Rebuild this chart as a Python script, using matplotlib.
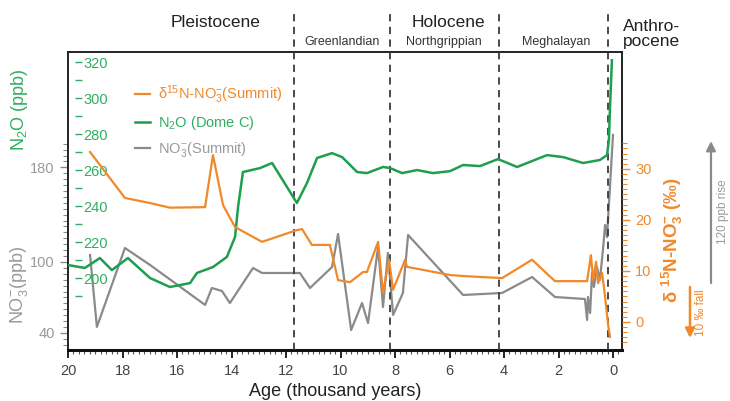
import matplotlib
matplotlib.use("Agg")
import matplotlib.pyplot as plt
from matplotlib.ticker import FixedLocator, MultipleLocator
import matplotlib.transforms as mtransforms

plt.rcParams['font.family'] = ['Liberation Sans', 'DejaVu Sans']
plt.rcParams['mathtext.default'] = 'regular'

# N2O Dome C (ka BP, ppb)
n2o_age = [20.0, 19.38, 18.83, 18.39, 17.80, 16.99, 16.26, 15.52, 15.27, 14.68,
           14.17, 13.87, 13.76, 13.58, 12.95, 12.51, 11.60, 11.23, 10.86, 10.31,
           9.94, 9.39, 9.03, 8.44, 8.18, 7.74, 7.19, 6.61, 5.98, 5.50,
           4.88, 4.22, 3.52, 2.42, 1.83, 1.10, 0.48, 0.22, 0.15, 0.11, 0.04]
n2o_val = [207.2, 205.6, 211.1, 204.4, 211.1, 200.0, 195.0, 197.2, 202.8, 206.1,
           211.7, 222.8, 239.4, 258.9, 261.1, 263.9, 241.7, 252.8, 266.7, 269.4,
           267.2, 258.9, 258.3, 261.7, 261.1, 258.3, 260.0, 258.3, 259.4, 262.8,
           262.2, 266.1, 261.7, 268.3, 267.2, 263.9, 265.6, 268.3, 276.7, 295.0, 321.0]

# d15N-NO3- Summit (ka BP, permil)
d15n_age = [19.19, 17.91, 16.99, 16.26, 14.97, 14.68, 14.31, 13.87, 12.88, 11.60,
            11.41, 11.05, 10.39, 10.09, 9.65, 9.17, 9.03, 8.62, 8.44, 8.22,
            8.07, 7.63, 7.56, 5.98, 5.50, 4.07, 2.97, 2.13, 0.95, 0.81,
            0.73, 0.62, 0.55, 0.40, 0.29, 0.18, 0.11]
d15n_val = [33.3, 24.3, 23.3, 22.4, 22.5, 32.7, 22.9, 18.6, 15.7, 18.0,
            18.2, 15.1, 15.1, 8.2, 7.8, 9.8, 9.8, 15.7, 5.7, 12.2,
            6.3, 12.2, 10.8, 9.2, 9.0, 8.6, 12.2, 8.0, 8.0, 13.1,
            8.2, 11.8, 7.6, 9.6, 4.9, -0.6, -2.9]

# NO3- Summit (ka BP, ppb)
no3_age = [19.19, 18.94, 17.91, 16.99, 14.97, 14.72, 14.35, 14.06, 13.21, 12.88,
           11.49, 11.12, 10.31, 10.09, 9.61, 9.21, 8.99, 8.62, 8.44, 8.26,
           8.07, 7.71, 7.52, 5.50, 4.07, 2.97, 2.13, 1.03, 0.95, 0.92,
           0.84, 0.77, 0.70, 0.59, 0.48, 0.37, 0.29, 0.22, 0.0]
no3_val = [105.9, 45.1, 111.8, 97.5, 63.7, 78.0, 75.5, 65.3, 94.9, 90.7,
           90.7, 78.0, 95.8, 123.7, 42.5, 65.3, 48.4, 112.7, 62.0, 107.6,
           55.2, 73.8, 122.8, 72.1, 73.8, 87.3, 70.4, 68.7, 51.0, 70.4,
           56.9, 90.7, 78.9, 95.8, 84.8, 110.1, 131.3, 121.1, 207.4]

boundaries = [11.7, 8.2, 4.2, 0.2]
x_ticks = [20, 18, 16, 14, 12, 10, 8, 6, 4, 2, 0]

c_orange = '#f0892b'
c_green = '#1f9e4f'
c_gray = '#8a8a8a'
c_green_txt = '#2fae62'
c_gray_txt = '#9a9a9a'

fig = plt.figure(figsize=(7.30, 4.01), dpi=100)
ax = fig.add_axes([68 / 730, 51 / 401, 554 / 730, 298 / 401])
ax_g = ax.twinx()
ax_o = ax.twinx()

# gray NO3- on the main axes
l_no3, = ax.plot(no3_age, no3_val, color=c_gray, lw=1.6)
ax.set_xlim(20, -0.33)
ax.set_ylim(25.6, 277.5)
ax.yaxis.set_major_locator(FixedLocator([40, 100, 180]))
ax.yaxis.set_minor_locator(FixedLocator(list(range(30, 201, 5))))
ax.tick_params(axis='y', which='major', colors=c_gray, labelcolor=c_gray_txt,
               length=6, width=1, labelsize=10.5)
ax.tick_params(axis='y', which='minor', colors=c_gray, length=3.5, width=0.8)

ax.set_xticks(x_ticks)
ax.xaxis.set_minor_locator(MultipleLocator(0.2))
ax.tick_params(axis='x', which='major', length=6, width=1.2, labelsize=10.5,
               labelcolor='#444444', pad=4)
ax.tick_params(axis='x', which='minor', length=3, width=0.8, color='#555555')
for s in ['left', 'right', 'top']:
    ax.spines[s].set_linewidth(1.4)
    ax.spines[s].set_color('#222222')
ax.spines['bottom'].set_linewidth(2.2)
ax.spines['bottom'].set_color('#111111')

# green N2O, axis drawn just inside the left spine
l_n2o, = ax_g.plot(n2o_age, n2o_val, color=c_green, lw=1.8)
ax_g.set_ylim(160, 325.6)
ax_g.spines['right'].set_position(('axes', 0.012))
for s in ax_g.spines.values():
    s.set_visible(False)
ax_g.yaxis.set_major_locator(FixedLocator(list(range(200, 321, 20))))
ax_g.yaxis.set_minor_locator(FixedLocator(list(range(190, 320, 20))))
ax_g.tick_params(axis='y', which='major', colors=c_green_txt, length=5, width=1,
                 labelsize=10.5, pad=1)
ax_g.tick_params(axis='y', which='minor', colors=c_green_txt, length=5, width=1)

# orange d15N on the right
l_d15n, = ax_o.plot(d15n_age, d15n_val, color=c_orange, lw=1.6)
ax_o.set_ylim(-5.49, 52.9)
for s in ax_o.spines.values():
    s.set_visible(False)
ax_o.yaxis.set_major_locator(FixedLocator([0, 10, 20, 30]))
ax_o.yaxis.set_minor_locator(FixedLocator(list(range(-4, 36))))
ax_o.tick_params(axis='y', which='major', colors=c_orange, length=6, width=1,
                 labelsize=10.5)
ax_o.tick_params(axis='y', which='minor', colors=c_orange, length=3.5, width=0.8)

# period boundaries
for b in boundaries:
    ax.axvline(b, ymin=0, ymax=(350 - 13) / 298, color='#3a3a3a', lw=1.3,
               ls=(0, (4, 3)), clip_on=False, zorder=5)

trans = mtransforms.blended_transform_factory(ax.transData, ax.transAxes)
ax.text(14.6, 1.10, 'Pleistocene', transform=trans, ha='center', va='center',
        fontsize=12.5, color='#222222')
ax.text(6.05, 1.10, 'Holocene', transform=trans, ha='center', va='center',
        fontsize=12.5, color='#222222')
ax.text(-0.37, 1.06, 'Anthro-\npocene', transform=trans, ha='left', va='center',
        fontsize=12.5, color='#222222', linespacing=1.05)
ax.text(9.93, 1.032, 'Greenlandian', transform=trans, ha='center', va='center',
        fontsize=9, color='#333333')
ax.text(6.22, 1.032, 'Northgrippian', transform=trans, ha='center', va='center',
        fontsize=9, color='#333333')
ax.text(2.1, 1.032, 'Meghalayan', transform=trans, ha='center', va='center',
        fontsize=9, color='#333333')

ax.set_xlabel('Age (thousand years)', fontsize=13, color='#222222')
ax.xaxis.set_label_coords((335 - 68) / 554, -0.11)

fig.text(19 / 730, 1 - 110 / 401, 'N$_2$O (ppb)', rotation=90, ha='center',
         va='center', fontsize=13, color=c_green_txt)
fig.text(19 / 730, 1 - 285 / 401, 'NO$_3^{-}$(ppb)', rotation=90, ha='center',
         va='center', fontsize=13, color=c_gray_txt)
fig.text(672 / 730, 1 - 240 / 401, 'δ $^{15}$N-NO$_3^{-}$ (‰)', rotation=90,
         ha='center', va='center', fontsize=13.5, color=c_orange,
         fontweight='bold')

# scale arrows: 120 ppb NO3- rise and 10 permil d15N fall
trans_gray = mtransforms.blended_transform_factory(ax.transAxes, ax.transData)
ax.annotate('', xy=((711 - 68) / 554, 202.2), xytext=((711 - 68) / 554, 82.2),
            xycoords=trans_gray, textcoords=trans_gray, annotation_clip=False,
            arrowprops=dict(arrowstyle='-|>', color=c_gray, lw=1.6,
                            mutation_scale=14, shrinkA=0, shrinkB=0))
ax.text((723 - 68) / 554, 142.2, '120 ppb rise', transform=trans_gray,
        rotation=90, ha='center', va='center', fontsize=8.5, color=c_gray_txt)

trans_or = mtransforms.blended_transform_factory(ax_o.transAxes, ax_o.transData)
ax_o.annotate('', xy=((690 - 68) / 554, -3.14), xytext=((690 - 68) / 554, 6.86),
              xycoords=trans_or, textcoords=trans_or, annotation_clip=False,
              arrowprops=dict(arrowstyle='-|>', color=c_orange, lw=1.8,
                              mutation_scale=14, shrinkA=0, shrinkB=0))
ax_o.text((701 - 68) / 554, 1.86, '10 ‰ fall', transform=trans_or,
          rotation=90, ha='center', va='center', fontsize=8.5, color=c_orange)

leg = ax_o.legend([l_d15n, l_n2o, l_no3],
                  ['δ$^{15}$N-NO$_3^{-}$(Summit)', 'N$_2$O (Dome C)',
                   'NO$_3^{-}$(Summit)'],
                  loc='upper left', bbox_to_anchor=(122 / 730, 1 - 70 / 401),
                  bbox_transform=fig.transFigure, frameon=False, fontsize=10.5,
                  handlelength=1.0, handletextpad=0.6, labelspacing=0.55)
for t, c in zip(leg.get_texts(), [c_orange, c_green_txt, c_gray_txt]):
    t.set_color(c)

fig.savefig('out.png', dpi=100)
